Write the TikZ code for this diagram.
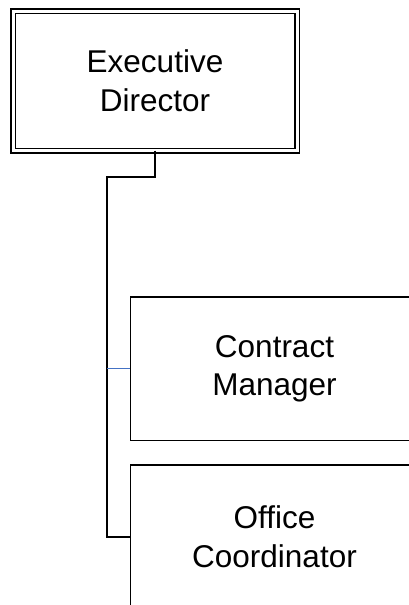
\documentclass[tikz,border=0pt]{standalone}
\usepackage{fontspec}
\setmainfont{Liberation Sans}
\begin{document}
\begin{tikzpicture}[x=1pt,y=1pt,
  orgbox/.style={draw=black, line width=1.5pt, rectangle, inner sep=0pt, outer sep=0pt,
    align=center, font=\fontsize{31.5}{38.5}\selectfont},
  link/.style={draw=black, line width=1.5pt},
  bluelink/.style={draw={rgb,255:red,68;green,114;blue,196}, line width=1.4pt}]
\useasboundingbox (0,0) rectangle (409,-605);
\clip (0,0) rectangle (409,-605);
\node[orgbox, double=white, double distance=3pt, minimum width=284pt, minimum height=139.3pt]
  (exec) at (155,-80.9) {Executive\\Director};
\node[orgbox, minimum width=288.4pt, minimum height=143.6pt]
  (contract) at (274.5,-368.6) {Contract\\Manager};
\node[orgbox, minimum width=288.4pt, minimum height=143.6pt]
  (office) at (274.5,-536.8) {Office\\Coordinator};
\coordinate (j1) at (107,-176.8);
\coordinate (j2) at (107,-368.6);
\draw[link] (exec.south) |- (j1) |- (office.west);
\draw[bluelink] (j2) -- (contract.west);
\end{tikzpicture}
\end{document}
